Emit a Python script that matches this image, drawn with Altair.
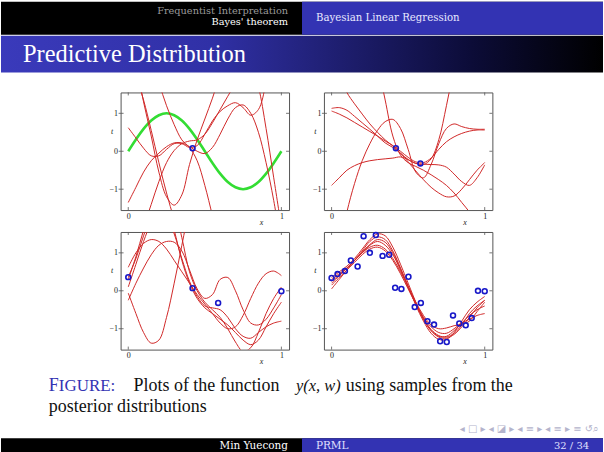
import altair as alt
import pandas as pd

SERIF = "Liberation Serif"
SMALL = "DejaVu Serif"
RED = "#d02828"
GREEN = "#33dd33"
BLUE = "#1818c8"
FRAME = "#555555"
BEAMER = "#3333b3"

# common sample positions of the curves
XS = [0.0, 0.05, 0.1, 0.15, 0.2, 0.25, 0.3, 0.35, 0.4, 0.45, 0.5,
      0.55, 0.6, 0.65, 0.7, 0.75, 0.8, 0.85, 0.9, 0.95, 1.0]

# ---- panel 1 (one observation) ----
P1_GREEN = [0.0, 0.31, 0.59, 0.81, 0.95, 1.0, 0.95, 0.81, 0.59, 0.31, 0.0,
            -0.31, -0.59, -0.81, -0.95, -1.0, -0.95, -0.81, -0.59, -0.31, 0.0]
P1_CURVES = [
    [0.62, 0.35, 0.08, -0.12, -0.12, 0.05, 0.2, 0.2, 0.1, 0.15, 0.45, 0.8, 1.05, 1.2, 1.28, 1.15, 0.95, 1.1, 1.8, 2.8, 4.0],
    [-1.35, -0.95, -0.55, -0.25, -0.05, 0.12, 0.22, 0.22, 0.12, 0.0, -0.06, 0.1, 0.45, 0.85, 1.15, 1.22, 1.0, 0.5, -0.3, -1.3, -2.5],
    [3.2, 2.3, 1.3, 0.4, -0.55, -1.2, -1.42, -1.15, -0.35, 0.3, 0.85, 1.4, 2.0, 2.4, 2.6, 2.6, 2.3, 1.7, 0.6, -0.7, -2.0],
    [2.6, 2.0, 1.35, 0.55, -0.3, -1.1, -1.8, -2.4, -2.8, -3.0, -3.2, -3.3, -3.4, -3.5, -3.6, -3.7, -3.8, -3.9, -4.0, -4.1, -4.2],
    [-3.2, -2.6, -2.0, -1.4, -0.8, -0.3, 0.02, 0.2, 0.27, 0.3, 0.45, 0.75, 1.1, 1.45, 1.8, 2.3, 2.8, 3.3, 3.8, 4.3, 4.8],
    [4.5, 3.8, 3.1, 2.4, 1.8, 1.2, 0.7, 0.3, 0.1, -0.25, -0.9, -1.7, -2.5, -3.0, -3.3, -3.5, -3.6, -3.7, -3.8, -3.9, -4.0],
]
P1_PX = [0.42]
P1_PY = [0.08]

# ---- panel 2 (two observations) ----
P2_CURVES = [
    [1.06, 0.98, 0.88, 0.76, 0.64, 0.52, 0.4, 0.27, 0.15, 0.0, -0.16, -0.28, -0.3, -0.18, 0.05, 0.25, 0.38, 0.47, 0.53, 0.56, 0.56],
    [1.13, 1.15, 1.08, 0.92, 0.75, 0.58, 0.4, 0.22, 0.1, -0.05, -0.22, -0.32, -0.34, -0.35, -0.36, -0.42, -0.6, -0.8, -0.9, -0.7, -0.36],
    [-3.5, -2.6, -1.6, -0.85, -0.25, 0.2, 0.55, 0.78, 0.84, 0.6, 0.05, -0.55, -0.7, -0.35, 0.2, 0.6, 0.72, 0.65, 0.6, 0.58, 0.58],
    [6.0, 5.5, 5.0, 4.5, 4.0, 3.2, 2.3, 1.35, 0.4, -0.1, -0.3, -0.4, -0.5, -0.62, -0.75, -0.9, -1.1, -1.35, -1.6, -1.9, -2.2],
    [-0.9, -0.7, -0.5, -0.38, -0.3, -0.25, -0.22, -0.2, -0.18, -0.15, -0.22, -0.32, -0.35, -0.2, 0.3, 1.2, 2.2, 3.2, 4.0, 5.0, 6.0],
    [2.6, 2.05, 1.55, 1.25, 0.98, 0.72, 0.5, 0.3, 0.14, -0.05, -0.28, -0.52, -0.75, -0.95, -1.1, -1.2, -1.18, -1.0, -0.75, -0.5, -0.3],
]
P2_PX = [0.42, 0.58]
P2_PY = [0.08, -0.32]

# ---- panel 3 (four observations) ----
P3_CURVES = [
    [0.62, 1.0, 1.25, 1.35, 1.3, 1.1, 0.8, 0.5, 0.2, -0.1, -0.35, -0.6, -0.85, -1.0, -0.95, -0.65, -0.2, 0.2, 0.45, 0.52, 0.4],
    [0.3, 0.9, 1.6, 2.2, 2.5, 2.3, 1.6, 0.8, 0.2, -0.2, -0.45, -0.6, -0.75, -0.9, -1.1, -1.3, -1.42, -1.3, -0.95, -0.6, -0.3],
    [-0.06, -0.6, -1.1, -1.38, -1.3, -0.7, 0.2, 1.2, 2.2, 3.0, 3.6, 4.0, 4.3, 4.5, 4.6, 4.7, 4.8, 4.9, 5.0, 5.1, 5.2],
    [-0.25, 0.2, 0.6, 0.95, 1.2, 1.3, 1.28, 1.05, 0.55, 0.05, -0.2, -0.1, 0.3, 0.35, 0.0, -0.5, -0.85, -0.9, -0.75, -0.45, -0.1],
    [0.36, 0.85, 1.45, 2.0, 2.4, 2.5, 2.2, 1.4, 0.5, 0.0, -0.3, -0.5, -0.7, -1.0, -1.35, -1.6, -1.5, -1.1, -0.6, -0.2, 0.1],
    [0.1, 0.7, 1.3, 1.8, 2.1, 2.0, 1.5, 0.85, 0.25, -0.15, -0.4, -0.45, -0.5, -0.7, -1.0, -1.2, -1.25, -1.1, -0.95, -0.85, -0.8],
]
P3_PX = [0.0, 0.42, 0.587, 1.0]
P3_PY = [0.36, 0.07, -0.32, -0.01]

# ---- panel 4 (twenty-five observations) ----
P4_CURVES = [
    [0.35, 0.5, 0.65, 0.85, 1.1, 1.35, 1.5, 1.45, 1.15, 0.7, 0.2, -0.3, -0.75, -1.05, -1.22, -1.25, -1.15, -0.95, -0.7, -0.45, -0.25],
    [0.25, 0.42, 0.6, 0.8, 1.0, 1.2, 1.3, 1.2, 0.95, 0.55, 0.1, -0.35, -0.75, -1.05, -1.2, -1.2, -1.05, -0.85, -0.65, -0.5, -0.4],
    [0.15, 0.35, 0.55, 0.75, 0.95, 1.1, 1.15, 1.05, 0.8, 0.45, 0.05, -0.35, -0.7, -0.95, -1.1, -1.12, -1.0, -0.85, -0.75, -0.65, -0.6],
    [0.3, 0.45, 0.6, 0.8, 1.05, 1.3, 1.42, 1.35, 1.05, 0.6, 0.12, -0.38, -0.8, -1.12, -1.28, -1.28, -1.1, -0.8, -0.5, -0.3, -0.15],
    [0.05, 0.3, 0.55, 0.8, 1.0, 1.15, 1.2, 1.1, 0.85, 0.5, 0.1, -0.3, -0.65, -0.9, -1.0, -0.98, -0.92, -0.88, -0.8, -0.55, -0.3],
    [0.2, 0.4, 0.6, 0.8, 1.02, 1.22, 1.35, 1.28, 1.0, 0.58, 0.12, -0.32, -0.72, -1.02, -1.18, -1.22, -1.12, -0.9, -0.6, -0.4, -0.25],
]
P4_PX = [0.0, 0.039, 0.087, 0.126, 0.17, 0.209, 0.25, 0.289, 0.333, 0.376, 0.415, 0.456, 0.502,
         0.543, 0.583, 0.626, 0.669, 0.709, 0.752, 0.793, 0.834, 0.876, 0.915, 0.956, 1.0]
P4_PY = [0.34, 0.44, 0.52, 0.80, 0.64, 1.44, 1.0, 1.47, 0.92, 0.95, 0.08, 0.05, 0.37,
         -0.43, -0.32, -0.80, -0.89, -1.33, -1.35, -0.65, -0.86, -0.91, -0.72, 0.0, -0.01]

X_TICKS = [0, 1]
Y_TICKS = [-1, 0, 1]
X_DOMAIN = [-0.05, 1.05]
Y_DOMAIN = [-1.55, 1.55]

PW, PH = 169, 118

LABEL_EXPR = "datum.value < 0 ? '\u2212' + format(-datum.value, 'd') : format(datum.value, 'd')"

xscale = alt.Scale(domain=X_DOMAIN, nice=False, zero=False)
yscale = alt.Scale(domain=Y_DOMAIN, nice=False, zero=False)
xaxis = alt.Axis(values=X_TICKS, ticks=False, domain=False, grid=False,
                 labelFont=SERIF, labelFontSize=8, labelColor="#222222", labelPadding=2,
                 labelExpr=LABEL_EXPR,
                 title="x", titleFont=SERIF, titleFontStyle="italic", titleFontWeight="normal",
                 titleFontSize=8, titleColor="#222222", titleX=141, titleY=12,
                 titleAlign="center", titleBaseline="middle")
yaxis = alt.Axis(values=Y_TICKS, ticks=False, domain=False, grid=False,
                 labelFont=SERIF, labelFontSize=8, labelColor="#222222", labelPadding=3,
                 labelExpr=LABEL_EXPR,
                 title="t", titleFont=SERIF, titleFontStyle="italic", titleFontWeight="normal",
                 titleFontSize=8, titleColor="#222222", titleAngle=0, titleX=-9, titleY=39,
                 titleAlign="center", titleBaseline="middle")


def X(field="x"):
    return alt.X(f"{field}:Q", scale=xscale, axis=xaxis)


def Y(field="y"):
    return alt.Y(f"{field}:Q", scale=yscale, axis=yaxis)


one = pd.DataFrame({"a": [0]})


def panel(curves, px, py, green=None):
    rows = []
    for i, ys in enumerate(curves):
        for xv, yv in zip(XS, ys):
            rows.append({"c": f"s{i}", "x": xv, "y": yv})
    df = pd.DataFrame(rows)
    # invisible box fixing the panel's layout bounds
    layers = [alt.Chart(one).mark_rect(opacity=0).encode(
        x=alt.value(0), x2=alt.value(PW), y=alt.value(-2), y2=alt.value(PH + 17))]
    if green is not None:
        gdf = pd.DataFrame({"x": XS, "y": green})
        layers.append(
            alt.Chart(gdf).mark_line(color=GREEN, strokeWidth=2.6, clip=True, interpolate="catmull-rom")
            .encode(x=X(), y=Y())
        )
    layers.append(
        alt.Chart(df).mark_line(color=RED, strokeWidth=1, clip=True, interpolate="catmull-rom")
        .encode(x=X(), y=Y(), detail="c:N")
    )
    pdf = pd.DataFrame({"x": px, "y": py})
    layers.append(
        alt.Chart(pdf).mark_point(shape="circle", filled=False, color=BLUE, size=24, strokeWidth=1.6, opacity=1)
        .encode(x=X(), y=Y())
    )
    xt = pd.DataFrame({"x": X_TICKS})
    yt = pd.DataFrame({"y": Y_TICKS})
    layers.append(alt.Chart(xt).mark_rule(color=FRAME, strokeWidth=0.8)
                  .encode(x=X(), y=alt.value(PH), y2=alt.value(PH - 3)))
    layers.append(alt.Chart(xt).mark_rule(color=FRAME, strokeWidth=0.8)
                  .encode(x=X(), y=alt.value(0), y2=alt.value(3)))
    layers.append(alt.Chart(yt).mark_rule(color=FRAME, strokeWidth=0.8)
                  .encode(y=Y(), x=alt.value(-2), x2=alt.value(3)))
    layers.append(alt.Chart(yt).mark_rule(color=FRAME, strokeWidth=0.8)
                  .encode(y=Y(), x=alt.value(PW - 3), x2=alt.value(PW)))
    return alt.layer(*layers).properties(
        width=PW, height=PH,
        view=alt.ViewBackground(stroke=FRAME, strokeWidth=1, fill="white"),
    )


def spacer(w, h):
    return alt.Chart(one).mark_text(text="").encode(
        x=alt.value(w / 2), y=alt.value(h / 2)).properties(width=w, height=h)


def box(x1, x2, y1, y2, color):
    return alt.Chart(one).mark_rect(color=color).encode(
        x=alt.value(x1), x2=alt.value(x2), y=alt.value(y1), y2=alt.value(y2))


def txt(s, x, y, size, color, align="left", style="normal", font=SERIF):
    return alt.Chart(one).mark_text(
        text=s, align=align, baseline="alphabetic", fontSize=size, color=color,
        font=font, fontStyle=style).encode(x=alt.value(x), y=alt.value(y))


title_grad = alt.LinearGradient(
    gradient="linear", x1=0, x2=1, y1=0, y2=0,
    stops=[alt.GradientStop(color="#3a3abb", offset=0),
           alt.GradientStop(color="#3030a6", offset=0.35),
           alt.GradientStop(color="#0c0c38", offset=0.78),
           alt.GradientStop(color="#000000", offset=1)])

header = alt.layer(
    box(0, 604, 0, 33, "#000000"),
    box(302, 604, 0, 33, BEAMER),
    alt.Chart(one).mark_rect(color=title_grad).encode(
        x=alt.value(0), x2=alt.value(604), y=alt.value(34), y2=alt.value(71)),
    txt("Frequentist Interpretation", 288, 12, 9.8, "#9a9a9a", align="right", font=SMALL),
    txt("Bayes' theorem", 288, 23.5, 9.8, "#ffffff", align="right", font=SMALL),
    txt("Bayesian Linear Regression", 316, 19, 10.2, "#e8e8ff", font=SMALL),
    txt("Predictive Distribution", 22, 60, 24.5, "#ffffff"),
).properties(width=604, height=87)

row1 = alt.hconcat(spacer(85, PH), panel(P1_CURVES, P1_PX, P1_PY, green=P1_GREEN),
                   panel(P2_CURVES, P2_PX, P2_PY), spacing=35, bounds="flush")
row2 = alt.hconcat(spacer(85, PH), panel(P3_CURVES, P3_PX, P3_PY),
                   panel(P4_CURVES, P4_PX, P4_PY), spacing=35, bounds="flush")

bottom = alt.layer(
    txt("F", 48, 23, 18, BEAMER),
    txt("IGURE:", 58, 23, 17, BEAMER),
    txt("Plots of the function", 133, 23, 18, "#111111"),
    txt("y(x, w)", 296, 23, 16.5, "#111111", style="italic"),
    txt("using samples from the", 346, 23, 18, "#111111"),
    txt("posterior distributions", 48, 44, 18, "#111111"),
    txt("\u25c2 \u25a1 \u25b8    \u25c2 \u25ea \u25b8    \u25c2 \u2261 \u25b8    \u25c2 \u2261 \u25b8      \u2261      \u21ba\u2315",
        600, 64, 10, "#b4b4cc", align="right", font="DejaVu Sans"),
    box(0, 604, 70, 85, "#000000"),
    box(302, 604, 70, 85, BEAMER),
    txt("Min Yuecong", 288, 81, 10.5, "#ffffff", align="right", font=SMALL),
    txt("PRML", 316, 81, 10.5, "#e0e0ff", font=SMALL),
    txt("32 / 34", 590, 81, 10, "#e0e0ff", align="right", font=SMALL),
).properties(width=604, height=85)

chart = alt.vconcat(header, row1, row2, bottom, spacing=0).properties(
    padding=0, background="white"
).configure_view(stroke="transparent")

chart.save("out.html", embed_options={"renderer": "svg", "actions": False})
